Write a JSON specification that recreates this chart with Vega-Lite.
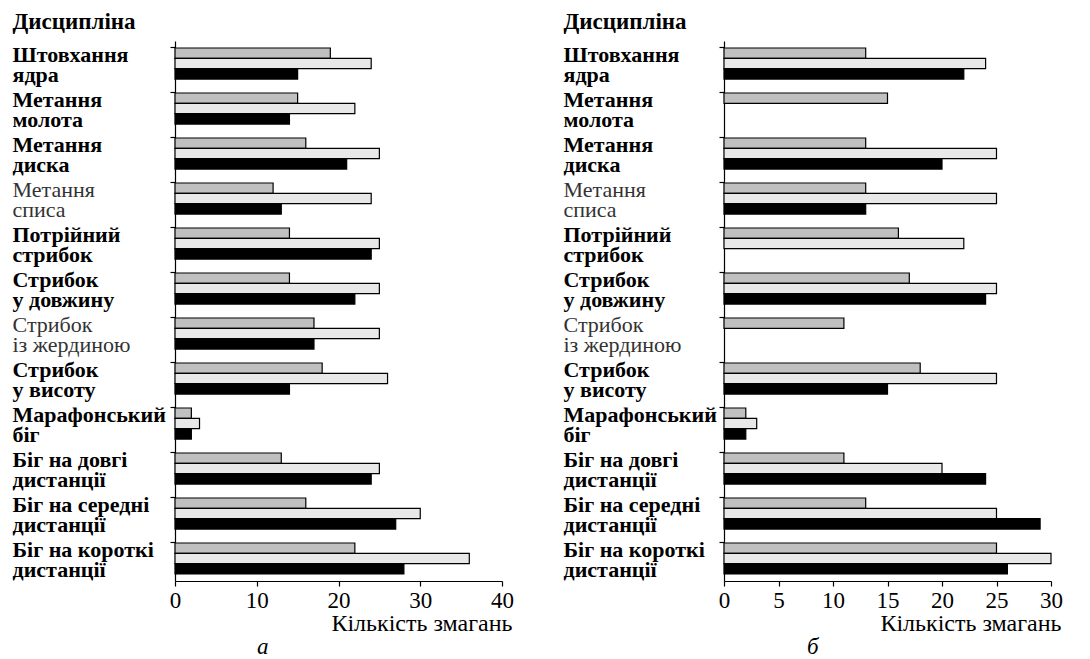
{
  "$schema": "https://vega.github.io/schema/vega-lite/v6.json",
  "background": "white",
  "padding": {"left": 12, "top": 10, "right": 5, "bottom": 0},
  "spacing": 49,
  "config": {
    "font": "Liberation Serif",
    "view": {"stroke": null},
    "axis": {"domainColor": "black", "tickColor": "black", "labelColor": "black", "titleColor": "black", "labelFont": "Liberation Serif", "titleFont": "Liberation Serif", "domainWidth": 1.2, "tickWidth": 1.2}
  },
  "datasets": {
    "a": [
      {"d": "Штовхання\nядра", "s": "1", "v": 19}, {"d": "Штовхання\nядра", "s": "2", "v": 24}, {"d": "Штовхання\nядра", "s": "3", "v": 15},
      {"d": "Метання\nмолота", "s": "1", "v": 15}, {"d": "Метання\nмолота", "s": "2", "v": 22}, {"d": "Метання\nмолота", "s": "3", "v": 14},
      {"d": "Метання\nдиска", "s": "1", "v": 16}, {"d": "Метання\nдиска", "s": "2", "v": 25}, {"d": "Метання\nдиска", "s": "3", "v": 21},
      {"d": "Метання\nсписа", "s": "1", "v": 12}, {"d": "Метання\nсписа", "s": "2", "v": 24}, {"d": "Метання\nсписа", "s": "3", "v": 13},
      {"d": "Потрійний\nстрибок", "s": "1", "v": 14}, {"d": "Потрійний\nстрибок", "s": "2", "v": 25}, {"d": "Потрійний\nстрибок", "s": "3", "v": 24},
      {"d": "Стрибок\nу довжину", "s": "1", "v": 14}, {"d": "Стрибок\nу довжину", "s": "2", "v": 25}, {"d": "Стрибок\nу довжину", "s": "3", "v": 22},
      {"d": "Стрибок\nіз жердиною", "s": "1", "v": 17}, {"d": "Стрибок\nіз жердиною", "s": "2", "v": 25}, {"d": "Стрибок\nіз жердиною", "s": "3", "v": 17},
      {"d": "Стрибок\nу висоту", "s": "1", "v": 18}, {"d": "Стрибок\nу висоту", "s": "2", "v": 26}, {"d": "Стрибок\nу висоту", "s": "3", "v": 14},
      {"d": "Марафонський\nбіг", "s": "1", "v": 2}, {"d": "Марафонський\nбіг", "s": "2", "v": 3}, {"d": "Марафонський\nбіг", "s": "3", "v": 2},
      {"d": "Біг на довгі\nдистанції", "s": "1", "v": 13}, {"d": "Біг на довгі\nдистанції", "s": "2", "v": 25}, {"d": "Біг на довгі\nдистанції", "s": "3", "v": 24},
      {"d": "Біг на середні\nдистанції", "s": "1", "v": 16}, {"d": "Біг на середні\nдистанції", "s": "2", "v": 30}, {"d": "Біг на середні\nдистанції", "s": "3", "v": 27},
      {"d": "Біг на короткі\nдистанції", "s": "1", "v": 22}, {"d": "Біг на короткі\nдистанції", "s": "2", "v": 36}, {"d": "Біг на короткі\nдистанції", "s": "3", "v": 28}
    ],
    "b": [
      {"d": "Штовхання\nядра", "s": "1", "v": 13}, {"d": "Штовхання\nядра", "s": "2", "v": 24}, {"d": "Штовхання\nядра", "s": "3", "v": 22},
      {"d": "Метання\nмолота", "s": "1", "v": 15},
      {"d": "Метання\nдиска", "s": "1", "v": 13}, {"d": "Метання\nдиска", "s": "2", "v": 25}, {"d": "Метання\nдиска", "s": "3", "v": 20},
      {"d": "Метання\nсписа", "s": "1", "v": 13}, {"d": "Метання\nсписа", "s": "2", "v": 25}, {"d": "Метання\nсписа", "s": "3", "v": 13},
      {"d": "Потрійний\nстрибок", "s": "1", "v": 16}, {"d": "Потрійний\nстрибок", "s": "2", "v": 22},
      {"d": "Стрибок\nу довжину", "s": "1", "v": 17}, {"d": "Стрибок\nу довжину", "s": "2", "v": 25}, {"d": "Стрибок\nу довжину", "s": "3", "v": 24},
      {"d": "Стрибок\nіз жердиною", "s": "1", "v": 11},
      {"d": "Стрибок\nу висоту", "s": "1", "v": 18}, {"d": "Стрибок\nу висоту", "s": "2", "v": 25}, {"d": "Стрибок\nу висоту", "s": "3", "v": 15},
      {"d": "Марафонський\nбіг", "s": "1", "v": 2}, {"d": "Марафонський\nбіг", "s": "2", "v": 3}, {"d": "Марафонський\nбіг", "s": "3", "v": 2},
      {"d": "Біг на довгі\nдистанції", "s": "1", "v": 11}, {"d": "Біг на довгі\nдистанції", "s": "2", "v": 20}, {"d": "Біг на довгі\nдистанції", "s": "3", "v": 24},
      {"d": "Біг на середні\nдистанції", "s": "1", "v": 13}, {"d": "Біг на середні\nдистанції", "s": "2", "v": 25}, {"d": "Біг на середні\nдистанції", "s": "3", "v": 29},
      {"d": "Біг на короткі\nдистанції", "s": "1", "v": 25}, {"d": "Біг на короткі\nдистанції", "s": "2", "v": 30}, {"d": "Біг на короткі\nдистанції", "s": "3", "v": 26}
    ]
  },
  "hconcat": [
    {
      "data": {"name": "a"},
      "width": 327,
      "height": 540,
      "title": {"text": "а", "orient": "bottom", "frame": "bounds", "anchor": "middle", "fontStyle": "italic", "fontSize": 23, "fontWeight": "normal", "font": "Liberation Serif", "color": "black", "offset": 1},
      "mark": {"type": "bar", "stroke": "black", "strokeWidth": 1.2},
      "encoding": {
        "y": {
          "field": "d", "type": "nominal",
          "sort": ["Штовхання\nядра", "Метання\nмолота", "Метання\nдиска", "Метання\nсписа", "Потрійний\nстрибок", "Стрибок\nу довжину", "Стрибок\nіз жердиною", "Стрибок\nу висоту", "Марафонський\nбіг", "Біг на довгі\nдистанції", "Біг на середні\nдистанції", "Біг на короткі\nдистанції"],
          "scale": {"paddingInner": 0.31, "paddingOuter": 0.155},
          "axis": {
            "title": "Дисципліна", "titleAngle": 0, "titleAlign": "left", "titleBaseline": "middle", "titleX": -163, "titleY": -20, "titleFontSize": 23, "titleFontWeight": "bold",
            "labelExpr": "split(datum.label, '\\n')",
            "labelAlign": "left", "labelBaseline": "middle", "labelPadding": 158, "labelFontSize": 22, "labelLineHeight": 20, "labelLimit": 0, "labelOffset": -9,
            "labelFontWeight": {"condition": {"test": "indexof(datum.value, 'списа') >= 0 || indexof(datum.value, 'жердиною') >= 0", "value": "normal"}, "value": "bold"},
            "labelColor": {"condition": {"test": "indexof(datum.value, 'списа') >= 0 || indexof(datum.value, 'жердиною') >= 0", "value": "#333333"}, "value": "black"},
            "bandPosition": 0, "tickSize": 5
          }
        },
        "yOffset": {"field": "s", "type": "nominal", "sort": ["1", "2", "3"], "scale": {"domain": ["1", "2", "3"], "paddingInner": 0, "paddingOuter": 0}},
        "x": {
          "field": "v", "type": "quantitative", "scale": {"domain": [0, 40]},
          "axis": {"title": "Кількість змагань", "titleAlign": "right", "titleBaseline": "middle", "titleX": 337, "titleY": 42, "titleFontSize": 24, "titleFontWeight": "normal", "labelFontSize": 23, "labelPadding": 3, "tickSize": 5, "grid": false, "values": [0, 10, 20, 30, 40], "labelFlush": false}
        },
        "fill": {"field": "s", "type": "nominal", "scale": {"domain": ["1", "2", "3"], "range": ["#c0c0c0", "#e8e8e8", "#000000"]}, "legend": null}
      }
    },
    {
      "data": {"name": "b"},
      "width": 327,
      "height": 540,
      "title": {"text": "б", "orient": "bottom", "frame": "bounds", "anchor": "middle", "fontStyle": "italic", "fontSize": 23, "fontWeight": "normal", "font": "Liberation Serif", "color": "black", "offset": 1},
      "mark": {"type": "bar", "stroke": "black", "strokeWidth": 1.2},
      "encoding": {
        "y": {
          "field": "d", "type": "nominal",
          "sort": ["Штовхання\nядра", "Метання\nмолота", "Метання\nдиска", "Метання\nсписа", "Потрійний\nстрибок", "Стрибок\nу довжину", "Стрибок\nіз жердиною", "Стрибок\nу висоту", "Марафонський\nбіг", "Біг на довгі\nдистанції", "Біг на середні\nдистанції", "Біг на короткі\nдистанції"],
          "scale": {"paddingInner": 0.31, "paddingOuter": 0.155},
          "axis": {
            "title": "Дисципліна", "titleAngle": 0, "titleAlign": "left", "titleBaseline": "middle", "titleX": -161, "titleY": -20, "titleFontSize": 23, "titleFontWeight": "bold",
            "labelExpr": "split(datum.label, '\\n')",
            "labelAlign": "left", "labelBaseline": "middle", "labelPadding": 156, "labelFontSize": 22, "labelLineHeight": 20, "labelLimit": 0, "labelOffset": -9,
            "labelFontWeight": {"condition": {"test": "indexof(datum.value, 'списа') >= 0 || indexof(datum.value, 'жердиною') >= 0", "value": "normal"}, "value": "bold"},
            "labelColor": {"condition": {"test": "indexof(datum.value, 'списа') >= 0 || indexof(datum.value, 'жердиною') >= 0", "value": "#333333"}, "value": "black"},
            "bandPosition": 0, "tickSize": 5
          }
        },
        "yOffset": {"field": "s", "type": "nominal", "sort": ["1", "2", "3"], "scale": {"domain": ["1", "2", "3"], "paddingInner": 0, "paddingOuter": 0}},
        "x": {
          "field": "v", "type": "quantitative", "scale": {"domain": [0, 30]},
          "axis": {"title": "Кількість змагань", "titleAlign": "right", "titleBaseline": "middle", "titleX": 337, "titleY": 42, "titleFontSize": 24, "titleFontWeight": "normal", "labelFontSize": 23, "labelPadding": 3, "tickSize": 5, "grid": false, "values": [0, 5, 10, 15, 20, 25, 30], "labelFlush": false}
        },
        "fill": {"field": "s", "type": "nominal", "scale": {"domain": ["1", "2", "3"], "range": ["#c0c0c0", "#e8e8e8", "#000000"]}, "legend": null}
      }
    }
  ]
}
